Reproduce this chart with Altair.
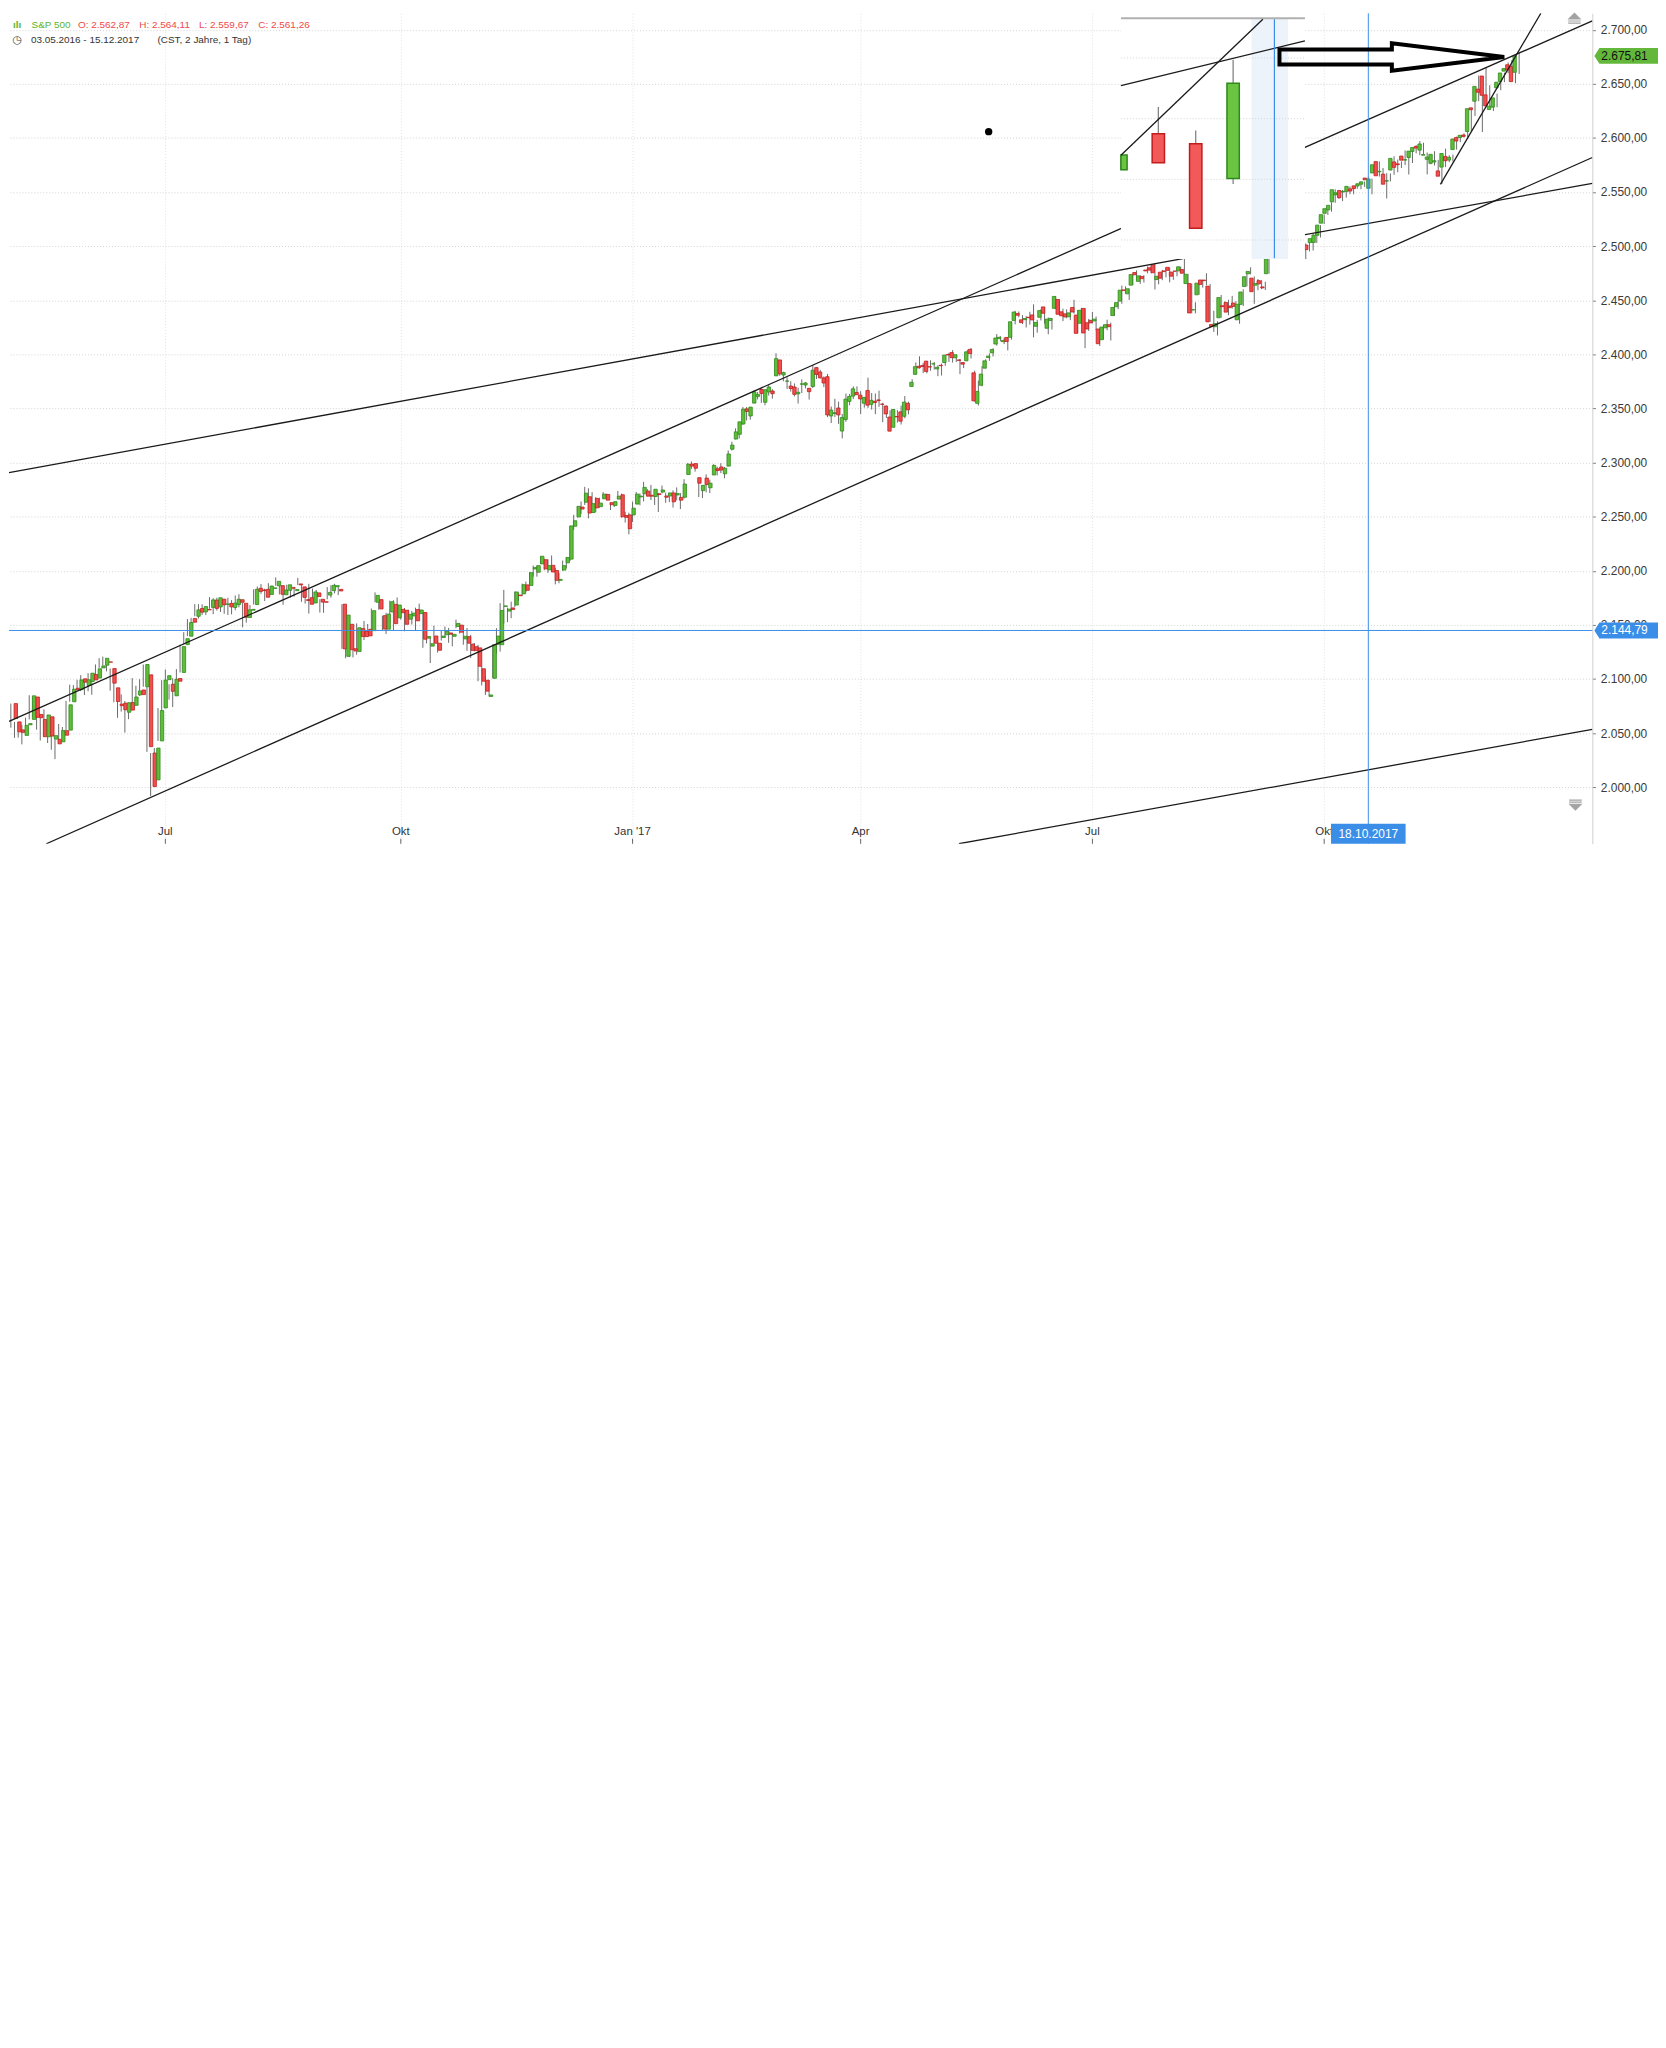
import altair as alt
import pandas as pd

# ---------------- daily S&P 500 candles, 03.05.2016 - 15.12.2017 (trading-day index 0..410)
OPEN = [
2077.2, 2060.3, 2052.9, 2047.8, 2057.6, 2062.6, 2083.3, 2067.2, 2062.5, 2046.5, 2065.0, 2044.4, 2044.2, 2041.9, 2052.2, 2052.7, 2078.9, 2091.4, 2090.1, 2100.1,
2093.9, 2097.7, 2104.1, 2100.8, 2110.2, 2112.7, 2115.7, 2109.6, 2091.8, 2076.7, 2077.6, 2069.2, 2078.2, 2075.6, 2085.2, 2089.8, 2092.8, 2103.8, 2031.5, 2006.7, 2042.7, 2073.2,
2099.3, 2095.1, 2084.4, 2100.4, 2106.0, 2131.7, 2139.5, 2155.8, 2157.9, 2165.1, 2162.0, 2164.2, 2166.1, 2172.9, 2166.5, 2173.7, 2169.0, 2169.8, 2166.1, 2168.8,
2173.2, 2169.9, 2156.8, 2163.5, 2168.8, 2183.8, 2182.2, 2182.8, 2178.0, 2183.7, 2186.1, 2186.2, 2177.8, 2181.9, 2184.2, 2181.6, 2187.8, 2185.1, 2173.3, 2175.1, 2170.2, 2179.5, 2173.6,
2171.3, 2177.5, 2181.6, 2185.2, 2182.8, 2169.1, 2120.9, 2150.5, 2127.9, 2125.4, 2146.5, 2144.0, 2145.9, 2144.6, 2170.9, 2173.3, 2158.5, 2146.0, 2161.9, 2168.9, 2156.5,
2164.3, 2163.4, 2155.2, 2158.2, 2164.2, 2160.4, 2161.4, 2137.7, 2130.3, 2139.7, 2133.0, 2138.3, 2140.8, 2142.5, 2139.4, 2148.5, 2149.7, 2137.0, 2139.1, 2132.2, 2129.8,
2128.7, 2109.4, 2098.8, 2083.8, 2100.6, 2132.0, 2131.6, 2167.0, 2162.7, 2165.6, 2168.3, 2177.5, 2178.6, 2186.9, 2186.4, 2201.6, 2198.6, 2206.3, 2210.2, 2200.8, 2205.0,
2200.2, 2191.1, 2200.6, 2207.3, 2210.7, 2241.1, 2249.7, 2258.8, 2263.3, 2268.4, 2253.8, 2266.8, 2259.2, 2266.5, 2270.5, 2262.9, 2260.3, 2266.2, 2270.2, 2251.0, 2251.6,
2251.6, 2261.6, 2268.2, 2271.1, 2273.6, 2269.7, 2268.6, 2271.1, 2272.7, 2269.1, 2269.1, 2271.9, 2270.0, 2267.8, 2267.9, 2288.9, 2298.6, 2299.0, 2286.0, 2274.0,
2285.6, 2276.7, 2288.5, 2294.3, 2295.9, 2289.6, 2296.7, 2312.3, 2321.7, 2326.1, 2335.6, 2349.6, 2343.0, 2354.9, 2361.1, 2367.5, 2355.7, 2365.2, 2366.1,
2380.1, 2394.8, 2380.9, 2375.2, 2370.7, 2369.8, 2363.5, 2372.5, 2371.6, 2368.6, 2370.3, 2387.7, 2383.7, 2378.2, 2379.3, 2343.0, 2345.3, 2350.4, 2329.1, 2339.8, 2356.5, 2361.3, 2364.8,
2362.3, 2354.8, 2366.6, 2353.8, 2356.6, 2357.9, 2353.9, 2352.2, 2342.0, 2332.6, 2342.5, 2346.8, 2342.7, 2354.7, 2370.3, 2381.5, 2389.0, 2389.7, 2393.7,
2388.5, 2391.1, 2386.5, 2389.8, 2392.4, 2399.9, 2401.6, 2396.8, 2394.8, 2392.4, 2394.0, 2404.6, 2382.9, 2354.7, 2371.4, 2387.2, 2397.0, 2401.4, 2409.5, 2414.5, 2411.7, 2415.6,
2415.7, 2431.3, 2437.8, 2431.9, 2432.0, 2434.3, 2436.4, 2425.9, 2434.2, 2443.8, 2424.1, 2431.2, 2442.5, 2450.7, 2439.3, 2437.4, 2434.7, 2443.3, 2436.3, 2428.7, 2442.4, 2429.2,
2431.4, 2430.8, 2423.4, 2413.5, 2424.5, 2427.4, 2435.8, 2444.0, 2449.2, 2459.5, 2455.9, 2463.9, 2475.6, 2467.4, 2472.0, 2477.9, 2480.0, 2482.8, 2469.1, 2475.9,
2477.1, 2480.4, 2476.0, 2476.9, 2477.1, 2478.4, 2465.4, 2465.4, 2441.0, 2455.0, 2468.7, 2468.6, 2463.0, 2427.6, 2425.5, 2433.8, 2444.9, 2447.9, 2444.7, 2447.4, 2431.9, 2446.1, 2462.7,
2474.4, 2470.4, 2463.8, 2468.1, 2462.3, 2474.5, 2491.9, 2493.9, 2494.6, 2495.7, 2502.5, 2506.3, 2506.8, 2507.2, 2497.3, 2499.4, 2501.0, 2503.3, 2503.4, 2510.0,
2521.2, 2530.3, 2533.5, 2540.9, 2547.4, 2551.4, 2550.0, 2550.6, 2552.9, 2555.7, 2555.6, 2557.2, 2562.9, 2553.4, 2567.6, 2578.1, 2568.7, 2566.5, 2560.1, 2570.3, 2577.8, 2576.0,
2583.2, 2579.5, 2581.9, 2587.5, 2592.1, 2588.7, 2584.0, 2580.2, 2576.5, 2577.8, 2569.5, 2573.0, 2582.9, 2579.5, 2589.2, 2600.3, 2600.4, 2602.7, 2605.9, 2627.8, 2633.9,
2645.1, 2657.2, 2639.8, 2626.2, 2628.4, 2646.2, 2652.2, 2661.7, 2667.6, 2665.9, 2660.6,
]
HIGH = [
2077.2, 2060.3, 2060.2, 2057.7, 2064.2, 2084.9, 2083.5, 2073.9, 2066.8, 2071.9, 2065.7, 2060.6, 2044.2, 2058.4, 2055.6, 2079.7, 2094.7, 2094.3, 2099.3, 2103.5,
2100.0, 2105.3, 2104.1, 2113.4, 2119.2, 2120.6, 2117.6, 2109.6, 2098.1, 2081.3, 2085.7, 2079.6, 2078.2, 2100.7, 2093.7, 2099.7, 2113.3, 2103.8, 2031.5, 2036.1, 2073.1, 2098.9,
2108.7, 2095.1, 2100.7, 2109.1, 2131.7, 2143.2, 2155.4, 2156.5, 2169.1, 2169.1, 2169.0, 2164.6, 2175.6, 2174.6, 2175.1, 2173.7, 2173.5, 2175.0, 2172.9, 2177.1,
2178.3, 2170.2, 2163.8, 2168.2, 2182.9, 2185.4, 2187.7, 2183.4, 2188.5, 2186.3, 2193.8, 2186.2, 2183.1, 2187.0, 2185.0, 2185.2, 2193.4, 2186.7, 2179.0, 2187.9, 2183.5, 2182.3, 2173.8,
2173.6, 2184.9, 2186.6, 2187.9, 2184.9, 2169.1, 2163.3, 2150.5, 2141.3, 2151.3, 2146.5, 2153.6, 2150.8, 2165.1, 2180.0, 2173.8, 2158.5, 2161.1, 2172.4, 2172.7, 2175.3,
2164.4, 2165.5, 2164.0, 2162.9, 2165.9, 2169.6, 2161.6, 2145.4, 2138.2, 2149.2, 2135.6, 2144.4, 2148.4, 2147.2, 2142.6, 2154.8, 2151.4, 2145.7, 2147.1, 2140.7, 2133.2,
2131.5, 2111.8, 2102.6, 2099.1, 2132.0, 2146.9, 2170.1, 2182.3, 2165.9, 2171.4, 2180.8, 2179.2, 2188.1, 2189.9, 2198.7, 2204.8, 2204.7, 2213.4, 2211.1, 2210.5, 2214.1,
2202.6, 2198.0, 2209.4, 2212.8, 2241.6, 2251.7, 2259.8, 2264.0, 2277.5, 2276.2, 2272.6, 2268.1, 2267.5, 2272.6, 2271.2, 2263.2, 2263.8, 2273.8, 2271.3, 2254.5, 2253.6,
2263.9, 2272.8, 2271.5, 2282.1, 2275.5, 2279.3, 2275.3, 2271.8, 2278.7, 2272.1, 2272.0, 2274.3, 2277.0, 2271.8, 2284.6, 2299.6, 2301.0, 2299.0, 2286.0, 2279.1,
2289.1, 2284.0, 2298.3, 2296.2, 2299.4, 2295.9, 2311.1, 2319.2, 2331.6, 2337.6, 2351.3, 2351.3, 2351.2, 2366.7, 2365.1, 2368.3, 2367.3, 2371.5, 2367.8,
2401.0, 2394.8, 2383.9, 2378.8, 2375.1, 2373.1, 2369.1, 2376.9, 2374.4, 2368.6, 2390.0, 2388.1, 2385.7, 2379.6, 2381.9, 2351.8, 2358.9, 2356.2, 2344.9, 2363.8, 2363.4, 2370.4, 2370.4,
2365.9, 2360.5, 2378.4, 2364.2, 2363.8, 2366.4, 2355.2, 2352.7, 2348.3, 2349.1, 2348.4, 2352.6, 2361.4, 2356.2, 2377.0, 2392.5, 2398.2, 2392.1, 2393.7,
2394.5, 2392.9, 2389.8, 2391.4, 2399.3, 2401.4, 2403.9, 2399.7, 2395.7, 2392.4, 2404.1, 2405.8, 2384.9, 2375.7, 2389.1, 2395.5, 2400.9, 2405.6, 2418.7, 2416.7, 2415.3, 2416.0,
2430.1, 2440.2, 2439.6, 2436.2, 2435.3, 2439.3, 2446.2, 2431.9, 2441.5, 2443.8, 2434.0, 2433.2, 2453.8, 2450.7, 2442.2, 2441.6, 2441.4, 2450.4, 2441.0, 2443.0, 2442.7, 2432.7,
2439.2, 2434.9, 2424.3, 2426.9, 2432.0, 2429.3, 2445.8, 2449.3, 2463.5, 2462.8, 2460.9, 2473.8, 2477.6, 2473.1, 2473.1, 2481.2, 2481.7, 2484.0, 2473.5, 2478.0,
2478.5, 2480.4, 2476.0, 2480.0, 2481.0, 2490.9, 2474.4, 2465.4, 2448.1, 2468.2, 2468.9, 2474.9, 2465.0, 2440.3, 2430.6, 2454.8, 2448.9, 2450.4, 2454.0, 2449.1, 2449.2, 2460.1, 2475.0,
2480.4, 2472.0, 2469.6, 2468.6, 2467.1, 2489.0, 2496.8, 2498.4, 2498.4, 2500.2, 2508.3, 2507.8, 2508.9, 2507.2, 2503.5, 2502.5, 2503.5, 2511.8, 2510.8, 2519.4,
2529.2, 2535.1, 2540.5, 2552.5, 2549.4, 2551.8, 2555.2, 2555.2, 2555.3, 2557.7, 2559.5, 2559.7, 2564.1, 2562.4, 2575.4, 2578.3, 2572.2, 2567.4, 2567.1, 2583.0, 2580.0, 2578.3,
2588.4, 2582.8, 2588.4, 2593.4, 2597.0, 2595.5, 2586.5, 2583.8, 2587.7, 2579.7, 2572.8, 2590.1, 2584.0, 2584.6, 2601.2, 2600.9, 2604.2, 2606.4, 2627.7, 2634.9, 2657.7,
2650.6, 2665.2, 2648.7, 2634.4, 2641.0, 2651.7, 2660.3, 2669.7, 2671.9, 2668.1, 2679.6,
]
LOW = [
2054.9, 2045.6, 2045.8, 2039.5, 2054.6, 2062.6, 2064.5, 2053.1, 2043.1, 2046.5, 2040.8, 2034.5, 2025.9, 2041.9, 2047.3, 2052.7, 2078.9, 2087.1, 2090.1, 2088.7,
2085.1, 2088.6, 2085.4, 2100.8, 2110.2, 2112.7, 2107.0, 2089.2, 2078.5, 2064.1, 2069.8, 2050.4, 2062.8, 2075.6, 2083.0, 2084.4, 2092.8, 2032.6, 1991.7, 2006.7, 2042.7, 2070.0,
2097.9, 2080.9, 2074.0, 2089.4, 2106.0, 2131.7, 2139.5, 2146.0, 2157.9, 2155.8, 2159.1, 2159.0, 2164.9, 2159.8, 2163.2, 2161.9, 2160.2, 2159.1, 2159.7, 2163.5,
2166.2, 2147.6, 2152.0, 2159.1, 2168.8, 2177.9, 2178.6, 2172.0, 2178.0, 2179.4, 2186.1, 2178.1, 2168.5, 2180.5, 2175.1, 2176.0, 2186.8, 2171.3, 2169.7, 2160.4, 2170.2, 2170.4, 2161.4,
2161.1, 2173.6, 2175.1, 2179.1, 2177.5, 2127.8, 2119.1, 2120.3, 2119.9, 2122.4, 2131.2, 2135.9, 2139.2, 2139.6, 2170.9, 2164.0, 2145.0, 2141.6, 2151.8, 2145.2, 2156.5,
2154.8, 2144.0, 2155.2, 2150.3, 2144.9, 2160.4, 2128.8, 2132.8, 2114.7, 2133.0, 2124.4, 2135.5, 2138.2, 2133.4, 2130.1, 2146.9, 2141.9, 2131.6, 2125.9, 2119.4, 2125.5,
2097.9, 2094.0, 2085.2, 2083.8, 2100.6, 2123.6, 2125.3, 2151.2, 2152.5, 2156.1, 2166.4, 2172.2, 2176.6, 2180.4, 2186.4, 2194.5, 2194.5, 2206.3, 2200.4, 2198.0, 2198.8,
2187.4, 2188.4, 2200.0, 2202.2, 2208.9, 2237.6, 2249.2, 2252.4, 2260.8, 2248.4, 2253.8, 2254.2, 2258.2, 2266.2, 2265.2, 2256.1, 2258.8, 2266.2, 2249.1, 2244.6, 2233.6,
2245.1, 2261.6, 2260.5, 2264.1, 2268.8, 2265.3, 2260.8, 2254.3, 2271.5, 2262.8, 2263.4, 2258.4, 2265.0, 2257.0, 2266.7, 2288.9, 2294.1, 2291.6, 2268.0, 2267.2,
2272.4, 2271.7, 2288.5, 2288.1, 2290.2, 2285.4, 2296.6, 2311.1, 2321.4, 2322.2, 2334.8, 2338.9, 2339.6, 2354.9, 2358.3, 2355.1, 2352.9, 2361.9, 2359.0,
2380.1, 2380.2, 2375.1, 2368.0, 2365.5, 2361.0, 2354.5, 2364.2, 2368.5, 2358.2, 2368.9, 2377.2, 2377.6, 2369.7, 2341.9, 2336.5, 2342.1, 2335.7, 2322.3, 2337.6, 2352.9, 2358.6, 2362.6,
2344.7, 2350.7, 2350.5, 2348.9, 2344.7, 2351.5, 2337.3, 2341.2, 2328.9, 2332.5, 2337.0, 2335.1, 2340.9, 2344.5, 2370.3, 2381.2, 2386.8, 2382.7, 2382.4,
2384.8, 2385.8, 2379.8, 2380.4, 2389.4, 2392.9, 2392.4, 2392.8, 2381.7, 2387.2, 2393.9, 2396.1, 2356.2, 2352.7, 2370.4, 2386.9, 2393.9, 2398.0, 2408.0, 2412.2, 2409.4, 2403.6,
2413.5, 2427.7, 2434.3, 2428.1, 2424.8, 2427.4, 2415.7, 2420.0, 2431.3, 2428.3, 2418.5, 2422.9, 2441.8, 2436.6, 2430.7, 2433.3, 2431.6, 2437.6, 2419.4, 2428.7, 2405.7, 2421.6,
2428.7, 2422.1, 2407.7, 2413.5, 2422.3, 2412.8, 2435.6, 2441.7, 2446.7, 2457.2, 2450.3, 2463.9, 2468.4, 2465.1, 2466.3, 2474.9, 2474.9, 2459.9, 2464.7, 2468.5,
2471.1, 2466.5, 2468.9, 2472.1, 2475.9, 2470.3, 2462.1, 2437.8, 2437.9, 2455.0, 2461.6, 2463.9, 2430.0, 2420.7, 2417.4, 2433.7, 2441.4, 2436.2, 2442.2, 2439.0, 2428.2, 2444.6, 2462.7,
2473.9, 2446.6, 2459.2, 2460.3, 2459.4, 2474.5, 2490.4, 2492.1, 2491.4, 2493.2, 2499.9, 2503.2, 2496.7, 2499.0, 2496.5, 2488.0, 2495.1, 2495.9, 2502.9, 2508.0,
2520.4, 2528.9, 2531.8, 2540.0, 2543.8, 2541.6, 2544.9, 2548.0, 2547.9, 2553.0, 2552.6, 2554.7, 2559.7, 2547.9, 2567.6, 2564.3, 2565.6, 2544.0, 2559.8, 2565.9, 2568.3, 2572.2,
2574.9, 2566.2, 2576.8, 2585.7, 2584.1, 2585.0, 2566.3, 2575.6, 2574.5, 2566.6, 2557.5, 2573.0, 2577.6, 2578.2, 2589.2, 2596.1, 2600.4, 2598.9, 2605.9, 2620.3, 2633.9,
2605.5, 2639.0, 2627.7, 2624.8, 2628.4, 2644.1, 2651.5, 2659.8, 2662.9, 2650.6, 2659.1,
]
CLOSE = [
2063.4, 2051.1, 2050.6, 2057.1, 2058.7, 2084.4, 2064.5, 2064.1, 2046.6, 2066.7, 2047.2, 2047.6, 2040.0, 2052.3, 2048.0, 2076.1, 2090.5, 2090.1, 2099.1, 2097.0,
2099.3, 2105.3, 2099.1, 2109.4, 2112.1, 2119.1, 2115.5, 2096.1, 2079.1, 2075.3, 2071.5, 2078.0, 2071.2, 2083.3, 2088.9, 2085.5, 2113.3, 2037.4, 2000.5, 2036.1, 2070.8, 2098.9,
2103.0, 2088.6, 2099.7, 2097.9, 2129.9, 2137.2, 2152.1, 2152.4, 2163.8, 2161.7, 2166.9, 2163.8, 2173.0, 2165.2, 2175.0, 2168.5, 2169.2, 2166.6, 2170.1, 2173.6,
2170.8, 2157.0, 2163.8, 2164.3, 2182.9, 2180.9, 2181.7, 2175.5, 2185.8, 2184.1, 2190.2, 2178.2, 2182.2, 2187.0, 2183.9, 2182.6, 2186.9, 2175.4, 2172.5, 2169.0, 2180.4, 2176.1, 2171.0,
2170.9, 2180.0, 2186.5, 2186.2, 2181.3, 2127.8, 2159.0, 2127.0, 2125.8, 2147.3, 2139.2, 2139.1, 2139.8, 2163.1, 2177.2, 2164.7, 2146.1, 2159.9, 2171.4, 2151.1, 2168.3,
2161.2, 2150.5, 2159.7, 2160.8, 2153.7, 2163.7, 2136.7, 2139.2, 2132.6, 2133.0, 2126.5, 2139.6, 2144.3, 2141.3, 2141.2, 2151.3, 2143.2, 2139.4, 2133.0, 2126.4, 2126.2,
2111.7, 2097.9, 2088.7, 2085.2, 2131.5, 2139.6, 2163.3, 2167.5, 2164.5, 2164.2, 2180.4, 2176.9, 2187.1, 2181.9, 2198.2, 2202.9, 2204.7, 2213.4, 2201.7, 2204.7, 2198.8,
2191.1, 2192.0, 2204.7, 2212.2, 2241.4, 2246.2, 2259.5, 2257.0, 2271.7, 2253.3, 2262.0, 2258.1, 2262.5, 2270.8, 2265.2, 2261.0, 2263.8, 2268.9, 2249.9, 2249.3, 2238.8,
2257.8, 2270.8, 2269.0, 2277.0, 2268.9, 2268.9, 2275.3, 2270.4, 2274.6, 2267.9, 2271.9, 2263.7, 2271.3, 2265.2, 2280.1, 2298.4, 2296.7, 2294.7, 2280.9, 2278.9,
2279.6, 2280.9, 2297.4, 2292.6, 2293.1, 2294.7, 2307.9, 2316.1, 2328.3, 2337.6, 2349.3, 2347.2, 2351.2, 2365.4, 2362.8, 2363.8, 2367.3, 2369.8, 2363.6,
2396.0, 2381.9, 2383.1, 2375.3, 2368.4, 2363.0, 2364.9, 2372.6, 2373.5, 2365.5, 2385.3, 2381.4, 2378.3, 2373.5, 2344.0, 2348.5, 2346.0, 2344.0, 2341.6, 2358.6, 2361.1, 2368.1, 2362.7,
2358.8, 2360.2, 2353.0, 2357.5, 2355.5, 2357.2, 2353.8, 2344.9, 2329.0, 2349.0, 2342.2, 2338.2, 2355.8, 2348.7, 2374.2, 2388.6, 2387.5, 2388.8, 2384.2,
2388.3, 2391.2, 2388.1, 2389.5, 2399.3, 2399.4, 2396.9, 2399.6, 2394.4, 2390.9, 2402.3, 2400.7, 2357.0, 2365.7, 2381.7, 2394.0, 2398.4, 2404.4, 2415.1, 2415.8, 2412.9, 2411.8,
2430.1, 2439.1, 2436.1, 2429.3, 2433.1, 2433.8, 2431.8, 2429.4, 2440.4, 2437.9, 2432.5, 2433.2, 2453.5, 2437.0, 2435.6, 2434.5, 2438.3, 2439.1, 2419.4, 2440.7, 2419.7, 2423.4,
2429.0, 2432.5, 2409.8, 2425.2, 2427.4, 2425.5, 2443.3, 2447.8, 2459.3, 2459.1, 2460.6, 2473.8, 2473.5, 2472.5, 2469.9, 2477.1, 2477.8, 2475.4, 2472.1, 2470.3,
2476.4, 2477.6, 2472.2, 2476.8, 2480.9, 2474.9, 2474.0, 2438.2, 2441.3, 2465.8, 2464.6, 2468.1, 2430.0, 2425.6, 2428.4, 2452.5, 2444.0, 2439.0, 2443.1, 2444.2, 2446.3, 2457.6, 2471.7,
2476.6, 2457.9, 2465.5, 2465.1, 2461.4, 2488.1, 2496.5, 2498.4, 2495.6, 2500.2, 2503.9, 2506.7, 2508.2, 2500.6, 2502.2, 2496.7, 2496.8, 2507.0, 2510.1, 2519.4,
2529.1, 2534.6, 2537.7, 2552.1, 2549.3, 2544.7, 2550.6, 2555.2, 2550.9, 2553.2, 2557.6, 2559.4, 2561.3, 2562.1, 2575.2, 2565.0, 2569.1, 2557.2, 2560.4, 2581.1, 2572.8, 2575.3,
2579.4, 2579.9, 2587.8, 2591.1, 2590.6, 2594.4, 2584.6, 2582.3, 2584.8, 2578.9, 2564.6, 2585.6, 2578.9, 2582.1, 2599.0, 2597.1, 2602.4, 2601.4, 2627.0, 2626.1, 2647.6,
2642.2, 2639.4, 2629.6, 2629.3, 2637.0, 2651.5, 2660.0, 2664.1, 2662.9, 2652.0, 2675.8,
]

# month ticks (trading-day index) and their labels
MONTH_IDX = [42, 106, 169, 231, 294, 357]
MONTH_LBL = ["Jul", "Okt", "Jan '17", "Apr", "Jul", "Okt"]
Y_TICKS = list(range(2000, 2701, 50))

# hand-drawn trend lines: start (index, price) -> end (index, price)
TL_NAME = ["A", "B", "C", "D", "E", "F", "G"]
TL_X0 = [-0.5, -0.5, 9.65, 257.7, 304.0, 325.0, 388.6]
TL_P0 = [2290.6, 2060.8, 1947.7, 1947.7, 2519.7, 2494.3, 2557.0]
TL_X1 = [318.6, 310.0, 429.9, 429.9, 429.9, 429.9, 415.9]
TL_P1 = [2488.5, 2528.7, 2581.9, 2053.4, 2708.2, 2557.9, 2715.2]

H_LEVEL = 2144.79
V_INDEX = 369          # 18.10.2017
LAST_CLOSE = 2675.81
DOT_IDX, DOT_P = [265.8], [2605.8]
ARROW_IDX, ARROW_P = [375.4], [2674.8]

# pasted magnified snapshot (own scale)
IN_I = [0, 1, 2, 3]
IN_O = [2505.8, 2508.75, 2507.93, 2505.06]
IN_H = [2507.0, 2510.96, 2509.02, 2514.86]
IN_L = [2505.8, 2506.37, 2500.96, 2504.62]
IN_C = [2507.0, 2506.37, 2500.96, 2512.93]
IN_GRID = [2500, 2505, 2510, 2515]
IN_LN_X0 = [0.0, 0.0]
IN_LN_P0 = [2506.99, 2512.73]
IN_LN_X1 = [3.795, 4.92]
IN_LN_P1 = [2518.2, 2516.42]

# ---------------- styling
W, H = 1592, 835
XD = [-0.5, 429.9]
YD = [1947.7, 2715.2]
FONT = "Liberation Sans"
UP_FILL, UP_LINE = "#5fbd3a", "#2c8a1b"
DN_FILL, DN_LINE = "#ef4f4f", "#c21d1d"
BLUE = "#3a8ee8"
GREEN_TAG = "#63b83b"
HDR_GREEN, HDR_RED = "#5cb531", "#ee4a4a"


def xs():
    return alt.Scale(domain=XD, nice=False, zero=False)


def ys():
    return alt.Scale(domain=YD, nice=False, zero=False)


def XQ(f, axis=None):
    return alt.X(f, type="quantitative", scale=xs(), axis=axis)


def YQ(f, axis=None):
    return alt.Y(f, type="quantitative", scale=ys(), axis=axis)


IXS = alt.Scale(domain=[0, 4.92], range=[1118, 1303], nice=False, zero=False)
IYS = alt.Scale(domain=[2498.44, 2518.69], range=[247, 0], nice=False, zero=False)


def IX(f):
    return alt.X(f, type="quantitative", scale=IXS, axis=None)


def IY(f):
    return alt.Y(f, type="quantitative", scale=IYS, axis=None)


n = min(len(OPEN), len(HIGH), len(LOW), len(CLOSE))
candles = pd.DataFrame({"i": list(range(n)), "o": OPEN[:n], "h": HIGH[:n],
                        "l": LOW[:n], "c": CLOSE[:n]})
candles["h"] = candles[["h", "o", "c"]].max(axis=1)
candles["l"] = candles[["l", "o", "c"]].min(axis=1)

label_expr = ("replace(replace(replace(format(datum.value, ',.2f'), ',', '#'), '.', ','), '#', '.')")
x_axis = alt.Axis(values=MONTH_IDX, grid=True, gridColor="#e2e2e2", gridDash=[1, 2],
                  labels=False, ticks=False, domain=False, title=None)
y_axis = alt.Axis(orient="right", values=Y_TICKS, grid=True, gridColor="#d4d4d4",
                  gridDash=[1, 2], labelExpr=label_expr, labelFont=FONT, labelFontSize=12,
                  labelColor="#3a3a3a", tickSize=3, tickColor="#777777",
                  domainColor="#cfcfcf", labelPadding=5, title=None, zindex=0)

base = alt.Chart(candles)
wicks = base.mark_rule(color="#6b6b6b", strokeWidth=1).encode(
    x=XQ("i", x_axis), y=YQ("l", y_axis), y2="h:Q")
up = "datum.c >= datum.o"
bodies = base.mark_bar(size=3.4, strokeWidth=0.8).encode(
    x=XQ("i"), y=YQ("o"), y2="c:Q",
    color=alt.condition(up, alt.value(UP_FILL), alt.value(DN_FILL)),
    stroke=alt.condition(up, alt.value(UP_LINE), alt.value(DN_LINE)))

tl_rows = []
for nm, a, b, c, d in zip(TL_NAME, TL_X0, TL_P0, TL_X1, TL_P1):
    tl_rows.append({"name": nm, "i": a, "p": b})
    tl_rows.append({"name": nm, "i": c, "p": d})
trend = alt.Chart(pd.DataFrame(tl_rows)).mark_line(
    color="#1a1a1a", strokeWidth=1.3, clip=True).encode(
    x=XQ("i"), y=YQ("p"), detail="name:N")

hline = alt.Chart(pd.DataFrame({"p": [H_LEVEL]})).mark_rule(
    color=BLUE, strokeWidth=1).encode(y=YQ("p"))
vline = alt.Chart(pd.DataFrame({"i": [V_INDEX]})).mark_rule(
    color=BLUE, strokeWidth=1).encode(x=XQ("i"))

months = pd.DataFrame({"i": MONTH_IDX, "lbl": MONTH_LBL})
month_txt = alt.Chart(months).mark_text(font=FONT, fontSize=11.5, color="#333333",
                                        baseline="middle", align="center").encode(
    x=XQ("i"), y=alt.value(823), text="lbl:N")
month_tick = alt.Chart(months).mark_rule(color="#666666").encode(
    x=XQ("i"), y=alt.value(830), y2=alt.value(835))

# ---- inset (magnified snapshot pasted onto the chart)
inset_df = pd.DataFrame({"i": IN_I, "o": IN_O, "h": IN_H, "l": IN_L, "c": IN_C})
frame = pd.DataFrame({"x0": [0], "x1": [4.92], "y0": [2498.44], "y1": [2518.69]})
in_bg = alt.Chart(frame).mark_rect(color="white").encode(
    x=IX("x0"), x2="x1:Q", y=IY("y0"), y2="y1:Q")
shade = pd.DataFrame({"x0": [3.49], "x1": [4.47], "y0": [2498.44], "y1": [2518.28]})
in_shade = alt.Chart(shade).mark_rect(color="#edf3fb").encode(
    x=IX("x0"), x2="x1:Q", y=IY("y0"), y2="y1:Q")
in_grid = alt.Chart(pd.DataFrame({"p": IN_GRID, "x0": [0] * 4, "x1": [4.92] * 4})).mark_rule(
    color="#d4d4d4", strokeDash=[1, 2]).encode(x=IX("x0"), x2="x1:Q", y=IY("p"))
in_top = alt.Chart(pd.DataFrame({"p": [2518.28], "x0": [0], "x1": [4.92]})).mark_rule(
    color="#b0b0b0", strokeWidth=2).encode(x=IX("x0"), x2="x1:Q", y=IY("p"))
in_wick = alt.Chart(inset_df).mark_rule(color="#7a7a7a", strokeWidth=1.2).encode(
    x=IX("i"), y=IY("l"), y2="h:Q")
in_body = alt.Chart(inset_df).transform_calculate(
    left="max(datum.i - 0.165, 0)", right="datum.i + 0.165").mark_rect(strokeWidth=1.5).encode(
    x=IX("left"), x2="right:Q", y=IY("o"), y2="c:Q",
    color=alt.condition(up, alt.value("#6cc443"), alt.value("#f25a5a")),
    stroke=alt.condition(up, alt.value(UP_LINE), alt.value(DN_LINE)))
in_ln_rows = []
for k, (a, b, c, d) in enumerate(zip(IN_LN_X0, IN_LN_P0, IN_LN_X1, IN_LN_P1)):
    in_ln_rows.append({"k": k, "i": a, "p": b})
    in_ln_rows.append({"k": k, "i": c, "p": d})
in_lines = alt.Chart(pd.DataFrame(in_ln_rows)).mark_line(
    color="#1a1a1a", strokeWidth=1.3).encode(x=IX("i"), y=IY("p"), detail="k:N")
in_vline = alt.Chart(pd.DataFrame({"i": [4.104], "p0": [2498.5], "p1": [2518.2]})).mark_rule(
    color=BLUE, strokeWidth=1.2).encode(x=IX("i"), y=IY("p0"), y2="p1:Q")

# ---- annotations
ARROW_PATH = "M -1 -0.066 L 0 -0.066 L 0 -0.122 L 1 0 L 0 0.122 L 0 0.066 L -1 0.066 Z"
arrow = alt.Chart(pd.DataFrame({"i": ARROW_IDX, "p": ARROW_P})).mark_point(
    shape=ARROW_PATH, size=226 ** 2, filled=False, color="black", strokeWidth=4,
    strokeJoin="miter", opacity=1).encode(x=XQ("i"), y=YQ("p"))
dot = alt.Chart(pd.DataFrame({"i": DOT_IDX, "p": DOT_P})).mark_point(
    shape="circle", filled=True, color="black", size=55, opacity=1).encode(
    x=XQ("i"), y=YQ("p"))

TAG_PATH = "M -1 0 L -0.84 -0.25 L 1 -0.25 L 1 0.25 L -0.84 0.25 Z"
tag_df = pd.DataFrame({"p": [LAST_CLOSE, H_LEVEL],
                       "txt": ["2.675,81", "2.144,79"],
                       "kind": ["last", "level"]})
is_last = "datum.kind == 'last'"
tags = alt.Chart(tag_df).mark_point(shape=TAG_PATH, size=64 ** 2, filled=True,
                                    opacity=1, strokeWidth=0).encode(
    x=alt.value(1626), y=YQ("p"),
    color=alt.condition(is_last, alt.value(GREEN_TAG), alt.value(BLUE)))
tag_txt = alt.Chart(tag_df).mark_text(font=FONT, fontSize=12, align="left",
                                      baseline="middle").encode(
    x=alt.value(1601), y=YQ("p"), text="txt:N",
    color=alt.condition(is_last, alt.value("#111111"), alt.value("white")))

DATE_PATH = "M -1 -0.27 L 1 -0.27 L 1 0.27 L -1 0.27 Z"
date_df = pd.DataFrame({"i": [V_INDEX], "txt": ["18.10.2017"]})
date_tag = alt.Chart(date_df).mark_point(shape=DATE_PATH, size=75 ** 2, filled=True,
                                         color=BLUE, opacity=1, strokeWidth=0).encode(
    x=XQ("i"), y=alt.value(825))
date_txt = alt.Chart(date_df).mark_text(font=FONT, fontSize=12, color="white",
                                        align="center", baseline="middle").encode(
    x=XQ("i"), y=alt.value(825), text="txt:N")

UP_ICON = "M -0.8 0.1 L 0 -0.7 L 0.8 0.1 Z M -0.9 0.4 L 0.9 0.4 M -0.9 0.7 L 0.9 0.7"
DOWN_ICON = "M -0.9 -0.7 L 0.9 -0.7 M -0.9 -0.4 L 0.9 -0.4 M -0.8 -0.1 L 0 0.7 L 0.8 -0.1 Z"
icons = [
    alt.Chart(pd.DataFrame({"k": [0]})).mark_point(
        shape=UP_ICON, size=196, filled=True, color="#a3a3a3", stroke="#a3a3a3",
        strokeWidth=1.2, opacity=1).encode(x=alt.value(1574), y=alt.value(5)),
    alt.Chart(pd.DataFrame({"k": [0]})).mark_point(
        shape=DOWN_ICON, size=196, filled=True, color="#a3a3a3", stroke="#a3a3a3",
        strokeWidth=1.2, opacity=1).encode(x=alt.value(1575), y=alt.value(796)),
]

# header
HDR_TXT = ["ılı", "S&P 500", "O: 2.562,87", "H: 2.564,11", "L: 2.559,67", "C: 2.561,26",
           "◷", "03.05.2016 - 15.12.2017", "(CST, 2 Jahre, 1 Tag)"]
HDR_X = [4, 22.7, 69.3, 131, 191, 250.7, 3.5, 22, 149.3]
HDR_Y = [11.7, 11.7, 11.7, 11.7, 11.7, 11.7, 26.7, 26.7, 26.7]
HDR_COL = [HDR_GREEN, HDR_GREEN, HDR_RED, HDR_RED, HDR_RED, HDR_RED, "#444444", "#333333", "#333333"]
header = []
for t, hx, hy, hc in zip(HDR_TXT, HDR_X, HDR_Y, HDR_COL):
    header.append(alt.Chart(pd.DataFrame({"t": [t]})).mark_text(
        font="DejaVu Sans" if t == "◷" else FONT,
        fontSize=11 if t == "◷" else 10, color=hc, align="left", baseline="middle",
        fontWeight="bold" if t == "ılı" else "normal").encode(
        x=alt.value(hx), y=alt.value(hy), text="t:N"))

chart = alt.layer(
    wicks, bodies, trend, hline, vline, month_tick, month_txt,
    in_bg, in_shade, in_grid, in_top, in_wick, in_body, in_lines, in_vline,
    arrow, dot, tags, tag_txt, date_tag, date_txt, *icons, *header
).resolve_scale(x="independent", y="independent").properties(
    width=W, height=H, padding=0, background="white"
).configure_view(stroke=None)

chart.save("out.html", embed_options={"renderer": "svg", "actions": False})
